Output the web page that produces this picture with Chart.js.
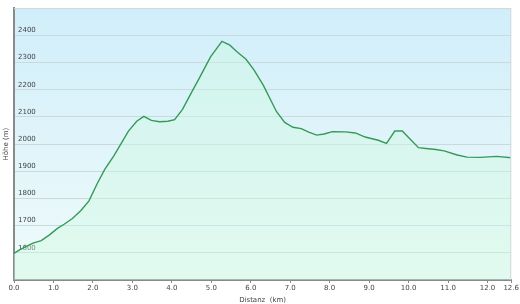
<!DOCTYPE html>
<html>
<head>
<meta charset="utf-8">
<script src="https://cdn.jsdelivr.net/npm/chart.js@4.4.1/dist/chart.umd.min.js"></script>
<style>
  html, body { margin: 0; padding: 0; background: #fff; }
  #wrap { width: 520px; height: 304px; }
</style>
</head>
<body>
<div id="wrap"><canvas id="graficoHoehe" width="520" height="304"></canvas></div>
<script>
// Höhenprofil: Distanz (km) und Höhe (m)
const distanzen = [0.0, 0.15, 0.48, 0.69, 0.9, 1.1, 1.27, 1.48, 1.69, 1.9, 2.11, 2.3, 2.53, 2.9, 3.11, 3.29, 3.48, 3.69, 3.9, 4.07,
  4.27, 4.52, 4.73, 4.98, 5.27, 5.47, 5.65, 5.88, 6.08, 6.32, 6.65, 6.86, 7.07, 7.28, 7.47, 7.67, 7.86, 8.07, 8.4, 8.65,
  8.9, 9.23, 9.44, 9.65, 9.84, 10.03, 10.25, 10.44, 10.69, 10.9, 11.23, 11.48, 11.82, 12.23, 12.6];
const hoehen = [1598, 1612, 1636, 1645, 1666, 1690, 1705, 1726, 1755, 1791, 1855, 1907, 1957, 2048, 2084, 2102, 2087, 2082, 2084, 2090,
  2128, 2196, 2252, 2321, 2378, 2364, 2340, 2312, 2273, 2216, 2120, 2080, 2062, 2057, 2044, 2033, 2037, 2046, 2045, 2041,
  2026, 2014, 2003, 2048, 2048, 2020, 1987, 1984, 1980, 1975, 1960, 1952, 1951, 1955, 1950];
const xTicks = [0, 1, 2, 3, 4, 5, 6, 7, 8, 9, 10, 11, 12, 12.6];
const yMin = 1500, yMax = 2500, yStep = 100;

// Hintergrund der Zeichenfläche
const hintergrund = {
  id: 'hintergrund',
  beforeDraw(chart) {
    const { ctx, chartArea: a } = chart;
    const g = ctx.createLinearGradient(0, a.top, 0, a.bottom);
    g.addColorStop(0, '#d0eefa');
    g.addColorStop(1, '#f0fbfa');
    ctx.save();
    ctx.fillStyle = g;
    ctx.fillRect(a.left, a.top, a.right - a.left, a.bottom - a.top);
    ctx.restore();
  },
  afterDraw(chart) {
    const { ctx, chartArea: a } = chart;
    ctx.save();
    ctx.strokeStyle = '#d4d9dc';
    ctx.lineWidth = 1;
    ctx.beginPath();
    ctx.moveTo(a.left, a.top + 0.5);
    ctx.lineTo(a.right - 0.5, a.top + 0.5);
    ctx.lineTo(a.right - 0.5, a.bottom);
    ctx.stroke();
    ctx.restore();
  }
};

const ctx = document.getElementById('graficoHoehe').getContext('2d');
new Chart(ctx, {
  type: 'line',
  data: {
    datasets: [{
      data: distanzen.map((d, i) => ({ x: d, y: hoehen[i] })),
      borderColor: '#359a58',
      borderWidth: 1.4,
      backgroundColor: 'rgba(205, 250, 222, 0.4)',
      fill: 'start',
      tension: 0,
      pointRadius: 0
    }]
  },
  options: {
    responsive: false,
    animation: false,
    layout: { padding: { top: 3, right: 3, left: 0, bottom: 0 } },
    plugins: { legend: { display: false }, tooltip: { enabled: false } },
    scales: {
      x: {
        type: 'linear',
        min: 0,
        max: 12.6,
        afterBuildTicks: (scale) => { scale.ticks = xTicks.map(v => ({ value: v })); },
        afterFit: (scale) => { scale.height = 24; },
        ticks: {
          autoSkip: false,
          maxRotation: 0,
          padding: 1,
          color: '#444',
          font: { family: 'DejaVu Sans', size: 7 },
          callback: (v) => Number(v).toFixed(1)
        },
        grid: { drawOnChartArea: false, drawTicks: true, tickLength: 3, color: '#888' },
        border: { display: true, color: '#8a8a8a', width: 2 },
        title: {
          display: true,
          text: 'Distanz  (km)',
          color: '#444',
          font: { family: 'DejaVu Sans', size: 7 },
          padding: { top: 0, bottom: 0 }
        }
      },
      y: {
        min: yMin,
        max: yMax,
        afterFit: (scale) => { scale.width = 14; },
        ticks: {
          stepSize: yStep,
          mirror: true,
          padding: 4,
          labelOffset: -5,
          color: '#444',
          font: { family: 'DejaVu Sans', size: 7 },
          callback: (v) => (v === yMin || v === yMax) ? '' : v
        },
        grid: { color: '#c9d9de', lineWidth: 1, drawTicks: false },
        border: { display: true, color: '#8a8a8a', width: 2 },
        title: {
          display: true,
          text: 'Höhe (m)',
          color: '#444',
          font: { family: 'DejaVu Sans', size: 7 },
          padding: { top: 2, bottom: 0 }
        }
      }
    }
  },
  plugins: [hintergrund]
});
</script>
</body>
</html>
